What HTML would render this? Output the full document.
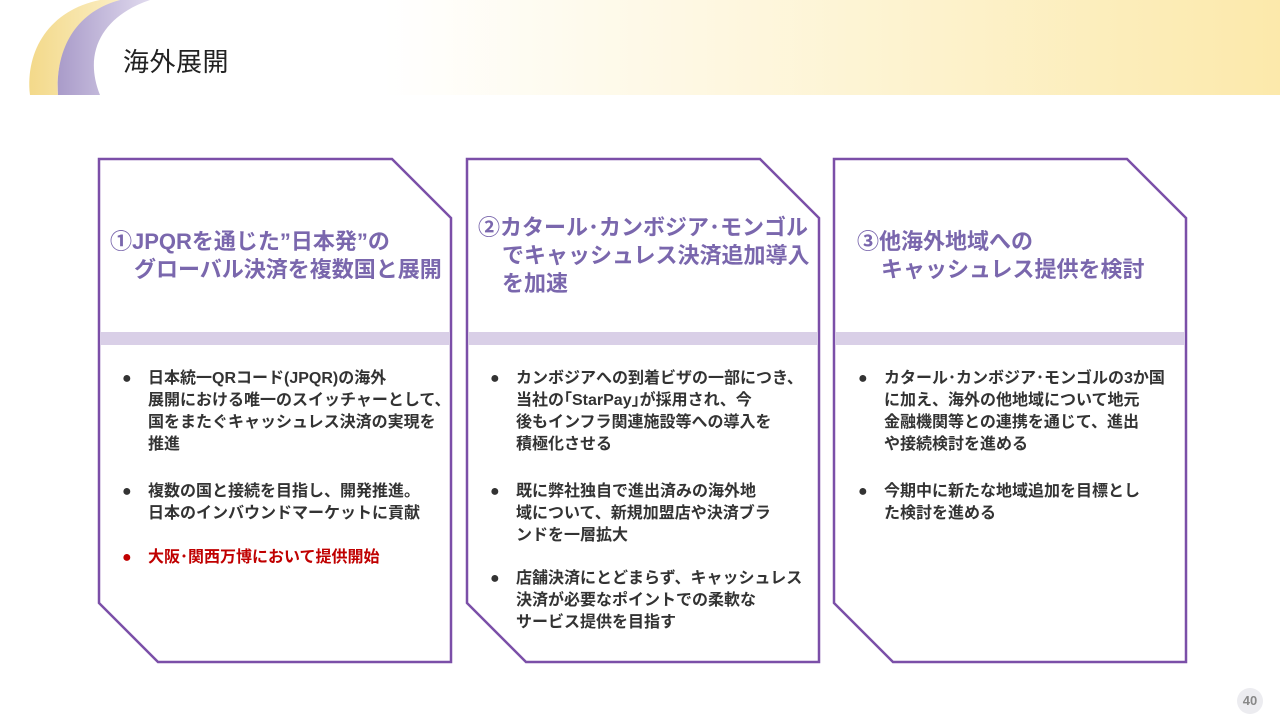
<!DOCTYPE html>
<html><head><meta charset="utf-8"><style>
*{margin:0;padding:0;box-sizing:border-box}
body{width:1280px;height:720px;position:relative;background:#fff;overflow:hidden;font-family:"Liberation Sans","Noto Sans CJK JP",sans-serif}
.hdr{position:absolute;left:0;top:0;width:1280px;height:95px;background:linear-gradient(90deg,#fff 0%,#fff 30%,#fdf3d0 70%,#fce9ab 100%)}
.title{position:absolute;left:123px;top:42px;font-size:26px;color:#222;letter-spacing:0.5px}
.h{position:absolute;font-size:22px;font-weight:bold;color:#7a67ad;line-height:28px;white-space:nowrap}
.h i{display:inline-block;width:24px}
.b{position:absolute;font-size:16px;font-weight:bold;color:#333;line-height:22px;white-space:nowrap}
.b .d{position:absolute;left:-26px;top:0}
.red{color:#c00000}
.pg{position:absolute;left:1237px;top:688px;width:26px;height:26px;border-radius:50%;background:#ececf0;color:#888;font-size:13px;font-weight:bold;text-align:center;line-height:26px}
</style></head><body>
<div class="hdr"></div>
<svg style="position:absolute;left:0;top:0" width="1280" height="720">
<defs>
<linearGradient id="y" x1="0" y1="0" x2="1" y2="0"><stop offset="0" stop-color="#f3d98a"/><stop offset="1" stop-color="#fbeec4"/></linearGradient>
<linearGradient id="p" x1="0" y1="0" x2="1" y2="0"><stop offset="0" stop-color="#a99bc9"/><stop offset="1" stop-color="#e0daee"/></linearGradient>
</defs>
<path d="M30,95 C25,50 50,10 100,0 L120,0 C75,15 55,50 58,95 Z" fill="url(#y)"/>
<path d="M58,95 C55,50 75,12 120,0 L150,0 C105,15 82,50 100,95 Z" fill="url(#p)"/>
<g fill="#fff" stroke="#7b4fa8" stroke-width="2.5">
<path d="M99,159 L392,159 L451,218 L451,662 L158,662 L99,603 Z"/>
<path d="M467,159 L760,159 L819,218 L819,662 L526,662 L467,603 Z"/>
<path d="M834,159 L1127,159 L1186,218 L1186,662 L893,662 L834,603 Z"/>
</g>
<g fill="#d9cfe7">
<rect x="100" y="332" width="350" height="13"/>
<rect x="468" y="332" width="350" height="13"/>
<rect x="835" y="332" width="350" height="13"/>
</g>
</svg>
<div class="title">海外展開</div>

<div class="h" style="left:110px;top:228px">①JPQRを通じた”日本発”の<br><i></i>グローバル決済を複数国と展開</div>
<div class="h" style="left:478px;top:214px">②カタール･カンボジア･モンゴル<br><i></i>でキャッシュレス決済追加導入<br><i></i>を加速</div>
<div class="h" style="left:857px;top:228px">③他海外地域への<br><i></i>キャッシュレス提供を検討</div>

<div class="b" style="left:148px;top:368px"><span class="d">●</span>日本統一QRコード(JPQR)の海外<br>展開における唯一のスイッチャーとして、<br>国をまたぐキャッシュレス決済の実現を<br>推進</div>
<div class="b" style="left:148px;top:481px"><span class="d">●</span>複数の国と接続を目指し、開発推進。<br>日本のインバウンドマーケットに貢献</div>
<div class="b red" style="left:148px;top:547px"><span class="d">●</span>大阪･関西万博において提供開始</div>

<div class="b" style="left:516px;top:368px"><span class="d">●</span>カンボジアへの到着ビザの一部につき、<br>当社の｢StarPay｣が採用され、今<br>後もインフラ関連施設等への導入を<br>積極化させる</div>
<div class="b" style="left:516px;top:481px"><span class="d">●</span>既に弊社独自で進出済みの海外地<br>域について、新規加盟店や決済ブラ<br>ンドを一層拡大</div>
<div class="b" style="left:516px;top:568px"><span class="d">●</span>店舗決済にとどまらず、キャッシュレス<br>決済が必要なポイントでの柔軟な<br>サービス提供を目指す</div>

<div class="b" style="left:884px;top:368px"><span class="d">●</span>カタール･カンボジア･モンゴルの3か国<br>に加え、海外の他地域について地元<br>金融機関等との連携を通じて、進出<br>や接続検討を進める</div>
<div class="b" style="left:884px;top:481px"><span class="d">●</span>今期中に新たな地域追加を目標とし<br>た検討を進める</div>

<div class="pg">40</div>
</body></html>
